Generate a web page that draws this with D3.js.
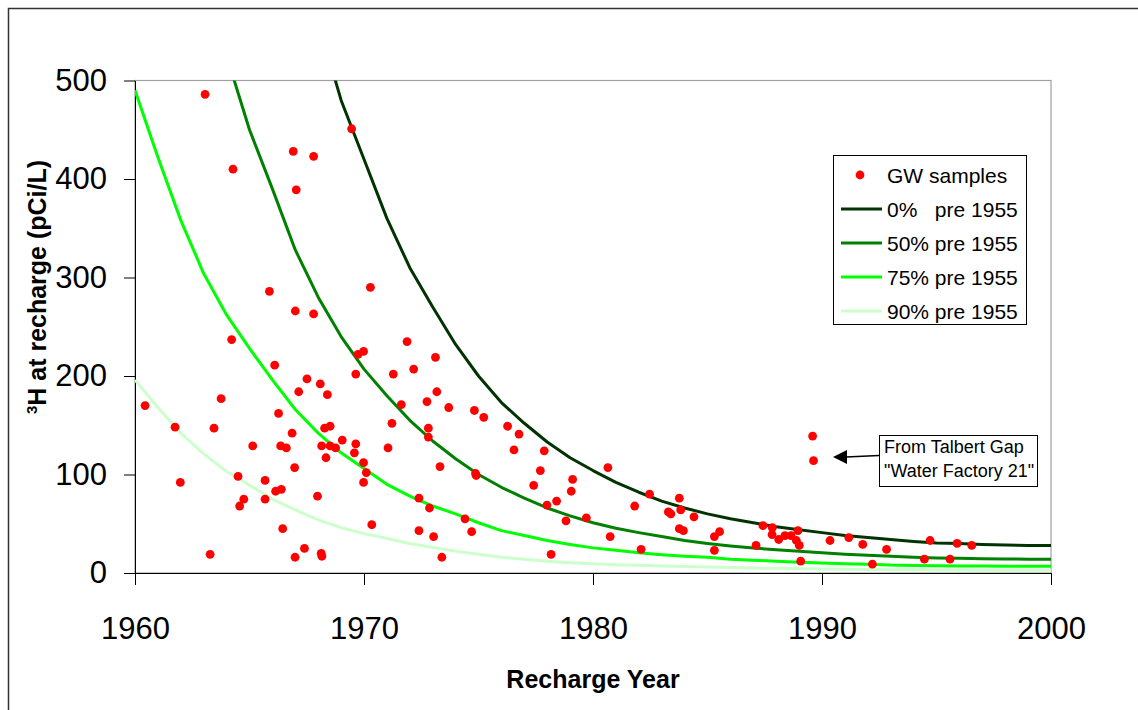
<!DOCTYPE html>
<html>
<head>
<meta charset="utf-8">
<script src="https://cdnjs.cloudflare.com/ajax/libs/d3/7.8.5/d3.min.js"></script>
<style>
  body { margin: 0; background: #fff; }
  svg { display: block; font-family: "Liberation Sans", Arial, sans-serif; }
</style>
</head>
<body>
<svg width="1138" height="710"></svg>
<script>
// GW samples (recharge year, 3H pCi/L)
var sampleYears = [1963.06, 1964.28, 1966.91, 1967.80, 1967.04, 1969.46, 1965.87, 1970.28, 1967.00, 1967.80,
  1964.22, 1969.74, 1969.98, 1966.10, 1969.64, 1971.28, 1967.51, 1968.09, 1967.15, 1968.40,
  1963.76, 1960.44, 1966.27, 1971.22, 1968.28, 1968.52, 1961.75, 1963.45, 1966.86, 1969.05,
  1965.14, 1966.36, 1966.61, 1968.15, 1968.52, 1968.76, 1969.64, 1969.58, 1971.05, 1968.34,
  1969.98, 1970.10, 1966.97, 1964.50, 1965.68, 1969.98, 1961.98, 1966.14, 1966.39, 1967.97,
  1964.75, 1965.68, 1964.57, 1970.34, 1966.45, 1963.28, 1967.40, 1966.99, 1968.13, 1968.16,
  1971.88, 1973.12, 1972.17, 1973.18, 1971.63, 1972.75, 1973.70, 1974.82, 1975.23, 1972.81,
  1972.81, 1976.27, 1976.77, 1976.55, 1977.87, 1973.32, 1974.87, 1974.90, 1980.65, 1977.70,
  1979.11, 1977.41, 1979.05, 1978.41, 1977.99, 1972.40, 1972.86, 1981.82, 1974.41, 1978.82,
  1979.71, 1972.40, 1973.04, 1974.70, 1980.75, 1973.40, 1978.17,
  1989.59, 1989.63, 1982.47, 1983.77, 1983.29, 1983.40, 1983.83, 1984.41, 1983.77, 1983.95,
  1982.10, 1985.30, 1985.53, 1985.30, 1987.42, 1987.12, 1987.83, 1987.82, 1988.11, 1988.38,
  1988.65, 1988.95, 1988.88, 1989.01, 1989.07, 1990.35, 1991.17, 1991.78, 1992.82, 1992.20,
  1994.72, 1994.47, 1995.90, 1995.59, 1996.54];
var sampleValues = [486, 410, 428, 423, 389, 451, 286, 290, 266, 263,
  237, 222, 225, 211, 202, 202, 197, 192, 184, 181,
  177, 170, 162, 152, 147, 149, 148, 147, 142, 135,
  129, 129, 127, 129, 129, 127, 131, 122, 127, 117,
  112, 102, 107, 98, 94, 92, 92, 83, 85, 78,
  75, 75, 68, 49, 45, 19, 25, 16, 20, 17,
  235, 219, 207, 184, 171, 174, 168, 165, 158, 147,
  138, 149, 141, 125, 124, 108, 101, 99, 107, 104,
  95, 89, 83, 73, 69, 76, 66, 68, 55, 53,
  56, 43, 37, 42, 37, 16, 19,
  139, 114, 80, 76, 62, 60, 64, 57, 45, 43,
  24, 37, 42, 23, 48, 28, 46, 39, 34, 38,
  38, 43, 33, 28, 12, 33, 36, 29, 24, 9,
  33, 14, 30, 14, 28];

// model curves, one value per recharge year
var curveYears = [1960, 1961, 1962, 1963, 1964, 1965, 1966, 1967, 1968, 1969,
  1970, 1971, 1972, 1973, 1974, 1975, 1976, 1977, 1978, 1979,
  1980, 1981, 1982, 1983, 1984, 1985, 1986, 1987, 1988, 1989,
  1990, 1991, 1992, 1993, 1994, 1995, 1996, 1997, 1998, 1999, 2000];
var pre0 = [null, null, null, null, null, null, null, 650, 560, 480,
  420, 360, 310, 270, 232, 200, 173, 152, 133, 117,
  104, 92, 82, 73, 66, 60, 55, 51, 47, 44,
  41, 38, 36, 34, 32, 30.5, 30, 29, 28.5, 28, 28];
var pre50 = [null, null, null, null, 525, 450, 390, 328, 280, 240,
  207, 180, 155, 134, 116, 100, 87, 76, 66, 58,
  51, 45.5, 41, 37, 33, 30, 27.5, 25.5, 23.5, 22,
  20.5, 19, 18, 17, 16, 15.3, 15, 14.5, 14.2, 14, 14];
var pre75 = [490, 422, 358, 304, 262, 228, 196, 166, 142, 122,
  106, 90, 78, 68, 60, 51, 43, 38, 33, 29,
  25.5, 23, 20.5, 18.5, 17, 16, 14, 13, 12, 11,
  10.2, 9.5, 9, 8, 7.7, 7.3, 7, 7, 6.8, 6.8, 6.8];
var pre90 = [196, 168, 142, 121, 103, 89, 75, 64, 54, 46,
  40, 35, 30, 26, 22, 19, 16, 14, 12, 10.5,
  9.5, 8.5, 7.8, 7, 6.5, 6, 5.5, 5, 4.8, 4.4,
  4, 3.8, 3.6, 3.4, 3.2, 3, 3, 2.9, 2.8, 2.8, 2.8];

var curveNames = ["0%   pre 1955", "50% pre 1955", "75% pre 1955", "90% pre 1955"];
var curveColors = ["#003300", "#008000", "#00ff00", "#ccffcc"];
var xTicks = [1960, 1970, 1980, 1990, 2000];
var yTicks = [0, 100, 200, 300, 400, 500];

var svg = d3.select("svg");
var plotL = 135, plotR = 1051, plotT = 80.5, plotB = 573;

var x = d3.scaleLinear().domain([1960, 2000]).range([plotL, plotR]);
var y = d3.scaleLinear().domain([0, 500]).range([plotB, plotT]);

// outer chart border (runs off the page on the right and bottom)
svg.append("rect").attr("x", 8.5).attr("y", 8.5).attr("width", 1140).attr("height", 720)
  .attr("fill", "none").attr("stroke", "#333").attr("stroke-width", 1.5);

// plot area border
svg.append("rect").attr("x", plotL).attr("y", plotT).attr("width", plotR - plotL).attr("height", plotB - plotT)
  .attr("fill", "none").attr("stroke", "#a0a0a0").attr("stroke-width", 1.2);

svg.append("clipPath").attr("id", "plotclip").append("rect")
  .attr("x", plotL).attr("y", plotT).attr("width", plotR - plotL).attr("height", plotB - plotT);

// axes
var yAxis = svg.append("g").attr("transform", "translate(" + plotL + ",0)")
  .call(d3.axisLeft(y).tickValues(yTicks).tickSize(11).tickSizeOuter(0).tickPadding(17));
var xAxis = svg.append("g").attr("transform", "translate(0," + plotB + ")")
  .call(d3.axisBottom(x).tickValues(xTicks).tickFormat(d3.format("d")).tickSize(12).tickSizeOuter(0).tickPadding(32));
[yAxis, xAxis].forEach(function(a) {
  a.selectAll("text").attr("font-size", "31px").attr("fill", "#000").attr("font-family", null);
  a.selectAll("line").attr("stroke", "#000");
  a.select(".domain").attr("stroke", "#000");
});

// curves
var series = [pre0, pre50, pre75, pre90];
var line = d3.line()
  .defined(function(d) { return d[1] != null; })
  .x(function(d) { return x(d[0]); })
  .y(function(d) { return y(d[1]); });
var curves = svg.append("g").attr("clip-path", "url(#plotclip)");
series.slice().reverse().forEach(function(vals, k) {
  var i = series.length - 1 - k;
  curves.append("path")
    .datum(curveYears.map(function(yr, j) { return [yr, vals[j]]; }))
    .attr("d", line)
    .attr("fill", "none")
    .attr("stroke", curveColors[i])
    .attr("stroke-width", 3)
    .attr("stroke-linejoin", "round");
});

// samples
svg.append("g").selectAll("circle")
  .data(sampleYears.map(function(yr, i) { return [yr, sampleValues[i]]; }))
  .enter().append("circle")
  .attr("cx", function(d) { return x(d[0]); })
  .attr("cy", function(d) { return y(d[1]); })
  .attr("r", 4.4)
  .attr("fill", "#ff0000");

// axis titles
svg.append("text")
  .attr("transform", "translate(46,287) rotate(-90)")
  .attr("text-anchor", "middle")
  .attr("font-size", "25px").attr("font-weight", "bold")
  .call(function(t) {
    t.append("tspan").attr("font-size", "15px").attr("dy", "-9").text("3");
    t.append("tspan").attr("dy", "9").text("H at recharge (pCi/L)");
  });
svg.append("text")
  .attr("x", 593).attr("y", 688)
  .attr("text-anchor", "middle")
  .attr("font-size", "25px").attr("font-weight", "bold")
  .text("Recharge Year");

// legend
var lg = svg.append("g");
lg.append("rect").attr("x", 833.5).attr("y", 155.5).attr("width", 193).attr("height", 169)
  .attr("fill", "#fff").attr("stroke", "#000");
lg.append("circle").attr("cx", 860).attr("cy", 175).attr("r", 4.4).attr("fill", "#ff0000");
lg.append("text").attr("x", 887).attr("y", 175).attr("dy", "0.36em").attr("font-size", "21px").text("GW samples");
curveNames.forEach(function(name, i) {
  var ly = 209 + i * 34;
  lg.append("line").attr("x1", 841).attr("x2", 882).attr("y1", ly).attr("y2", ly)
    .attr("stroke", curveColors[i]).attr("stroke-width", 3);
  lg.append("text").attr("x", 887).attr("y", ly).attr("dy", "0.36em").attr("font-size", "21px")
    .style("white-space", "pre").text(name);
});

// annotation
var an = svg.append("g");
an.append("rect").attr("x", 879.5).attr("y", 435.5).attr("width", 158).attr("height", 51)
  .attr("fill", "#fff").attr("stroke", "#000");
an.append("text").attr("x", 884).attr("y", 453).attr("font-size", "18px").text("From Talbert Gap");
an.append("text").attr("x", 884).attr("y", 477).attr("font-size", "18px").text("\"Water Factory 21\"");
an.append("line").attr("x1", 879).attr("y1", 455.5).attr("x2", 846).attr("y2", 457)
  .attr("stroke", "#000").attr("stroke-width", 1.5);
an.append("path").attr("d", "M833,457 L847,450 L847,464 Z").attr("fill", "#000");
</script>
</body>
</html>
